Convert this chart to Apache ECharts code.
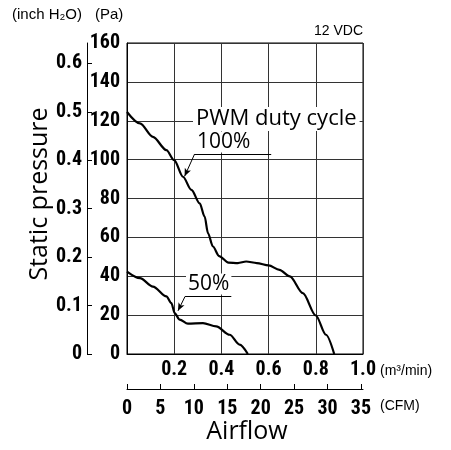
<!DOCTYPE html>
<html>
<head>
<meta charset="utf-8">
<script src="https://cdn.jsdelivr.net/npm/echarts@6/dist/echarts.min.js"></script>
<style>
  html, body { margin: 0; padding: 0; background: #fff; }
  #chart { width: 451px; height: 450px; }
</style>
</head>
<body>
<div id="chart"></div>
<script>
// airflow in m3/min, static pressure in Pa
var flow100 = [0, 0.055, 0.11, 0.167, 0.2, 0.237, 0.273, 0.308, 0.329, 0.343, 0.364, 0.39, 0.43, 0.47, 0.505, 0.55, 0.6, 0.646, 0.69, 0.745, 0.8, 0.843, 0.878];
var pres100 = [124.5, 118.6, 111.7, 104.9, 99.7, 91.2, 84.4, 77.5, 70.7, 62.2, 55.3, 50.4, 47, 46.8, 47.6, 46.8, 45.6, 43.3, 39.9, 31.3, 19.8, 9.9, 0];

var flow50 = [0, 0.055, 0.11, 0.167, 0.188, 0.202, 0.223, 0.258, 0.322, 0.378, 0.435, 0.477, 0.512];
var pres50 = [42.4, 39, 34.7, 29.6, 26.2, 21, 17.7, 15.6, 15.9, 14.2, 9.9, 4.8, 0];

var paMax = 160;
var flowMax = 1.0;
var paPerInch = 249.089;   // 1 inch H2O
var m3PerCfm = 0.0283168;  // 1 CFM in m3/min
var inchTicks = [0, 0.1, 0.2, 0.3, 0.4, 0.5, 0.6];
var cfmTicks = [0, 5, 10, 15, 20, 25, 30, 35];

// leader lines of the callouts, in data units: [underline start, underline end, arrow tip]
var lead100 = [[0.2865, 102.9], [0.611, 102.9], [0.244, 91.4]];
var lead50 = [[0.246, 29.6], [0.442, 29.6], [0.216, 22.2]];

var numFont = "'Roboto Condensed', 'Liberation Sans Narrow', sans-serif";
var textFont = "'Open Sans', 'DejaVu Sans', sans-serif";
var smallFont = "'Liberation Sans', Arial, sans-serif";

function pairs(xs, ys){
	var out = [];
	for(var i = 0; i < xs.length; i++){
		out.push([xs[i], ys[i]]);
	}
	return out;
}

function leader(pts){
	return [
		[{coord: pts[0], symbol: 'none'}, {coord: pts[1], symbol: 'none'}],
		[{coord: pts[0], symbol: 'none'}, {coord: pts[2], symbol: 'arrow', symbolSize: [5, 8]}]
	];
}

function curve(name, xs, ys, lead){
	return {
		name: name,
		type: 'line',
		data: pairs(xs, ys),
		smooth: 0.3,
		smoothMonotone: 'x',
		showSymbol: false,
		lineStyle: {color: '#000', width: 2.2},
		markLine: {
			silent: true,
			symbol: 'none',
			label: {show: false},
			lineStyle: {color: '#000', width: 1, type: 'solid'},
			data: leader(lead)
		}
	};
}

function tag(text, x, y, size, family, extra){
	var style = {
		text: text,
		fill: '#000',
		font: (extra && extra.weight ? extra.weight + ' ' : '') + size + 'px ' + family,
		verticalAlign: 'middle',
		align: (extra && extra.align) || 'left'
	};
	if(extra && extra.bg){
		style.backgroundColor = '#fff';
		style.padding = extra.pad || [1, 3];
	}
	var el = {type: 'text', x: x, y: y, style: style, z: 100};
	if(extra && extra.rotate) el.rotation = extra.rotate;
	return el;
}

var numLabel = {color: '#000', fontSize: 20, fontWeight: 'bold', fontFamily: numFont};

var chart = echarts.init(document.getElementById('chart'), null, {renderer: 'canvas'});

var option = {
	animation: false,
	backgroundColor: '#fff',
	grid: {
		left: 127, right: 88, top: 43, bottom: 96,
		show: true, borderColor: '#000', borderWidth: 1, backgroundColor: 'transparent'
	},
	xAxis: [
		{
			type: 'value', min: 0, max: flowMax, interval: 0.2,
			axisLine: {show: true, lineStyle: {color: '#000', width: 1}},
			axisTick: {show: false},
			splitLine: {show: true, lineStyle: {color: '#333', width: 1}},
			axisLabel: echarts.util.extend({
				margin: 6,
				formatter: function(v){ return v === 0 ? '' : v.toFixed(1); }
			}, numLabel)
		},
		{
			type: 'value', position: 'bottom', offset: 35,
			min: 0, max: flowMax / m3PerCfm,
			axisLine: {show: true, onZero: false, lineStyle: {color: '#000', width: 1}},
			axisTick: {show: true, inside: true, length: 5, customValues: cfmTicks, lineStyle: {color: '#000'}},
			splitLine: {show: false},
			axisLabel: echarts.util.extend({margin: 10, customValues: cfmTicks}, numLabel)
		}
	],
	yAxis: [
		{
			type: 'value', min: 0, max: paMax, interval: 20,
			axisLine: {show: true, lineStyle: {color: '#000', width: 1}},
			axisTick: {show: false},
			splitLine: {show: true, lineStyle: {color: '#333', width: 1}},
			axisLabel: echarts.util.extend({margin: 7}, numLabel)
		},
		{
			type: 'value', position: 'left', offset: 40,
			min: 0, max: paMax / paPerInch,
			axisLine: {show: true, onZero: false, lineStyle: {color: '#000', width: 1}},
			axisTick: {show: true, inside: true, length: 5, customValues: inchTicks, lineStyle: {color: '#000'}},
			splitLine: {show: false},
			axisLabel: echarts.util.extend({
				margin: 5,
				customValues: inchTicks,
				formatter: function(v){ return v === 0 ? '0' : v.toFixed(1); }
			}, numLabel)
		}
	],
	series: [
		curve('100%', flow100, pres100, lead100),
		curve('50%', flow50, pres50, lead50)
	],
	graphic: [
		tag('(inch H\u2082O)', 12, 15, 15, smallFont),
		tag('(Pa)', 95, 15, 15, smallFont),
		tag('12 VDC', 363, 31, 14, smallFont, {align: 'right'}),
		tag('(m\u00b3/min)', 380, 371, 14, smallFont),
		tag('(CFM)', 380, 406, 14, smallFont),
		tag('PWM duty cycle', 193, 119, 22, textFont, {bg: true}),
		tag('100%', 195, 142, 21, textFont, {bg: true, pad: [0, 2]}),
		tag('50%', 186, 284, 21, textFont, {bg: true, pad: [0, 2]}),
		tag('Airflow', 247, 432, 25, textFont, {align: 'center'}),
		tag('Static pressure', 40, 194, 25, textFont, {align: 'center', rotate: Math.PI / 2})
	]
};

chart.setOption(option);
</script>
</body>
</html>
